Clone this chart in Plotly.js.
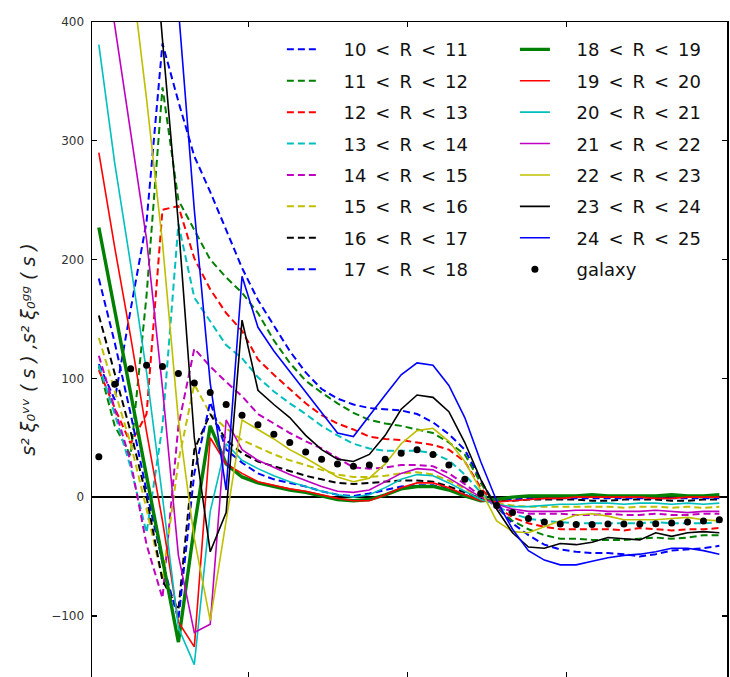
<!DOCTYPE html>
<html>
<head>
<meta charset="utf-8">
<script src="https://cdn.plot.ly/plotly-3.0.1.min.js"></script>
<style>
  html, body { margin: 0; padding: 0; background: #ffffff; }
  #chart { width: 730px; height: 677px; }
</style>
</head>
<body>
<div id="chart"></div>
<script>
// Separation s (bin centres) shared by every curve
const s = [3, 8, 13, 18, 23, 28, 33, 38, 43, 48, 53, 58, 63, 68, 73, 78, 83, 88, 93, 98,
           103, 108, 113, 118, 123, 128, 133, 138, 143, 148, 153, 158, 163, 168, 173, 178, 183, 188, 193, 198];

// Void auto-correlation multipoles s^2 xi_0^vv(s), one array per void radius bin
const r10_11 = [112, 82, 158, 232, 382, 333, 287, 257, 225, 193, 166, 144, 123, 105, 91, 83, 78, 75, 74, 73,
                70, 63, 53, 40, 14, -8, -22, -32, -40, -44, -46, -47, -47, -48, -50, -48, -45, -44, -43, -41];
const r11_12 = [110, 60, 35, 170, 345, 250, 225, 200, 185, 172, 155, 132, 113, 98, 88, 79, 71, 65, 62, 60,
                57, 54, 46, 36, 12, -8, -20, -27, -32, -35, -35, -36, -36, -36, -35, -34, -35, -34, -32, -32];
const r12_13 = [107, 75, 45, 70, 242, 245, 201, 175, 155, 140, 116, 103, 91, 79, 69, 62, 57, 51, 49, 48,
                46, 44, 40, 30, 8, -8, -17, -22, -25, -27, -27, -27, -27, -28, -26, -27, -28, -27, -27, -26];
const r13_14 = [111, 70, 25, -30, 60, 230, 168, 148, 128, 117, 101, 89, 79, 70, 60, 52, 45, 41, 39, 39,
                39, 37, 31, 19, 4, -8, -14, -18, -20, -21, -22, -22, -22, -22, -22, -21, -22, -22, -22, -21];
const r14_15 = [119, 75, 30, -40, -85, 60, 125, 110, 97, 85, 70, 62, 54, 47, 41, 33, 25, 24, 25, 27,
                27, 26, 20, 11, 1, -8, -12, -14, -14, -14, -15, -15, -14, -15, -15, -14, -15, -15, -14, -14];
const r15_16 = [134, 90, 45, -10, -70, 30, 95, 70, 58, 48, 42, 36, 31, 27, 23, 19, 17, 17, 18, 20,
                21, 19, 14, 7, 0, -5, -7, -8, -8, -8, -8, -8, -8, -9, -8, -8, -9, -8, -9, -8];
const r16_17 = [153, 105, 55, 0, -70, -95, 40, 70, 48, 37, 30, 26, 22, 18, 15, 12, 11, 12, 13, 14,
                14, 13, 9, 4, -1, -3, -3, -2, -2, -2, -2, -3, -3, -2, -2, -2, -3, -3, -2, -2];
const r17_18 = [184, 130, 70, 5, -55, -103, 20, 80, 40, 29, 20, 15, 12, 9, 5, 2, 1, 3, 6, 9,
                10, 10, 7, 2, -2, -3, -2, -1, -1, -1, -1, -1, -1, -1, -1, -1, -1, -1, -1, -1];
const r18_19 = [227, 157, 87, 15, -55, -122, -25, 60, 28, 17, 12, 9, 6, 4, 1, -2, -3, -2, 2, 7,
                9, 9, 6, 1, -3, -2, 0, 1, 1, 1, 1, 2, 1, 1, 1, 1, 2, 1, 1, 2];
const r19_20 = [290, 210, 135, 55, -20, -105, -126, 50, 28, 20, 13, 10, 7, 5, 2, -1, -3, -3, 2, 8,
                12, 12, 8, 2, -3, -4, -3, -2, -1, -1, 0, 0, 0, 0, 0, -1, -1, 0, 0, 0];
const r20_21 = [381, 281, 196, 105, 0, -110, -141, -12, 45, 31, 24, 18, 13, 9, 5, 2, 0, 2, 8, 15,
                19, 18, 12, 5, -2, -6, -8, -8, -7, -6, -6, -5, -5, -6, -5, -5, -6, -5, -6, -5];
const r21_22 = [487, 397, 306, 217, 92, -49, -114, -107, 65, 40, 31, 25, 19, 14, 9, 5, 4, 6, 13, 20,
                24, 23, 16, 8, 0, -6, -10, -12, -12, -12, -11, -11, -12, -12, -12, -11, -12, -13, -12, -12];
const r22_23 = [670, 560, 449, 335, 214, 65, -35, -104, -20, 65, 57, 49, 40, 33, 25, 17, 13, 16, 28, 45,
                56, 58, 47, 30, 6, -20, -29, -30, -25, -20, -15, -14, -16, -19, -19, -19, -18, -17, -19, -20];
const r23_24 = [1020, 860, 700, 540, 385, 230, 50, -46, -13, 149, 90, 78, 67, 52, 40, 32, 30, 36, 52, 74,
                86, 84, 72, 46, 15, -10, -30, -42, -43, -39, -40, -38, -34, -35, -36, -30, -33, -30, -29, -30];
const r24_25 = [1260, 1090, 920, 750, 580, 411, 242, 96, 6, 186, 143, 123, 106, 89, 71, 54, 51, 69, 86, 103,
                113, 111, 94, 67, 30, -3, -27, -45, -53, -57, -57, -54, -51, -49, -48, -46, -43, -43, -45, -48];

// Galaxy auto-correlation s^2 xi_0^gg(s)
const galaxy = [34, 95, 108, 111, 110, 104, 96, 88, 78, 69, 61, 53, 46, 38, 32, 28, 26, 27, 32, 37,
                40, 36, 27, 15, 3, -7, -13, -18, -21, -22.6, -23, -23, -22.6, -22.6, -22.6, -22.3, -21.7, -21, -20, -19];

const dashedLabels = ['10 < R < 11', '11 < R < 12', '12 < R < 13', '13 < R < 14',
                      '14 < R < 15', '15 < R < 16', '16 < R < 17', '17 < R < 18'];
const solidLabels  = ['18 < R < 19', '19 < R < 20', '20 < R < 21', '21 < R < 22',
                      '22 < R < 23', '23 < R < 24', '24 < R < 25'];
const galaxyLabel = 'galaxy';
const yTitle = 's² ξ₀ᵛᵛ ( s ) ,s² ξ₀ᵍᵍ ( s )';

const dashedSeries = [r10_11, r11_12, r12_13, r13_14, r14_15, r15_16, r16_17, r17_18];
const solidSeries  = [r18_19, r19_20, r20_21, r21_22, r22_23, r23_24, r24_25];

// classic matplotlib colour cycle: b, g, r, c, m, y, k
const cycle = ['#0000ff', '#008000', '#ff0000', '#00bfbf', '#bf00bf', '#bfbf00', '#000000'];

const pad = '\u2002\u2002\u2009';
const spaced = t => pad + t.replace(/ /g, '\u2002');

const traces = [];
dashedSeries.forEach((ys, i) => {
  traces.push({
    x: s, y: ys, type: 'scatter', mode: 'lines',
    name: spaced(dashedLabels[i]),
    legend: 'legend', legendgroup: 'd' + i,
    line: { color: cycle[i % 7], width: 2, dash: '7px,4px' },
    hoverinfo: 'skip'
  });
});
solidSeries.forEach((ys, i) => {
  const ci = (i + 8) % 7;
  traces.push({
    x: s, y: ys, type: 'scatter', mode: 'lines',
    name: spaced(solidLabels[i]),
    legend: 'legend2', legendgroup: 's' + i,
    line: { color: cycle[ci], width: i === 0 ? 3.4 : 1.6 },
    hoverinfo: 'skip'
  });
});
traces.push({
  x: s, y: galaxy, type: 'scatter', mode: 'markers',
  name: pad + galaxyLabel,
  legend: 'legend2', legendgroup: 'g',
  marker: { color: '#000000', size: 7 },
  hoverinfo: 'skip'
});

const legendCommon = {
  xanchor: 'left', yanchor: 'top',
  bgcolor: 'rgba(0,0,0,0)', borderwidth: 0,
  font: { family: 'DejaVu Sans', size: 18, color: '#111111' },
  traceorder: 'grouped', tracegroupgap: 5, itemclick: false
};

const layout = {
  width: 730, height: 677,
  margin: { l: 92, r: 3, t: 22, b: 0, pad: 0 },
  paper_bgcolor: '#ffffff', plot_bgcolor: '#ffffff',
  font: { family: 'DejaVu Sans', color: '#222222' },
  showlegend: true,
  legend: Object.assign({ x: 0.299, y: 0.986 }, legendCommon),
  legend2: Object.assign({ x: 0.666, y: 0.986 }, legendCommon),
  xaxis: {
    range: [0.85, 200.4],
    tickvals: [50, 100, 150],
    showticklabels: false,
    ticks: 'inside', ticklen: 5, tickwidth: 1.2, tickcolor: '#000000',
    showline: true, linecolor: '#000000', linewidth: 1.5, mirror: 'ticks',
    showgrid: false, zeroline: false
  },
  yaxis: {
    range: [-151.4, 400],
    tickvals: [-100, 0, 100, 200, 300, 400],
    ticks: 'inside', ticklen: 5, tickwidth: 1.2, tickcolor: '#000000',
    ticklabelstandoff: 4,
    tickfont: { family: 'DejaVu Sans', size: 12, color: '#333333' },
    showline: true, linecolor: '#000000', linewidth: 1.5, mirror: 'ticks',
    showgrid: false,
    zeroline: true, zerolinecolor: '#000000', zerolinewidth: 1.5,
    title: {
      text: yTitle,
      font: { family: 'DejaVu Sans', size: 19, color: '#222222', style: 'italic' },
      standoff: 10
    }
  }
};

Plotly.newPlot('chart', traces, layout, { displayModeBar: false, staticPlot: true });
</script>
</body>
</html>
